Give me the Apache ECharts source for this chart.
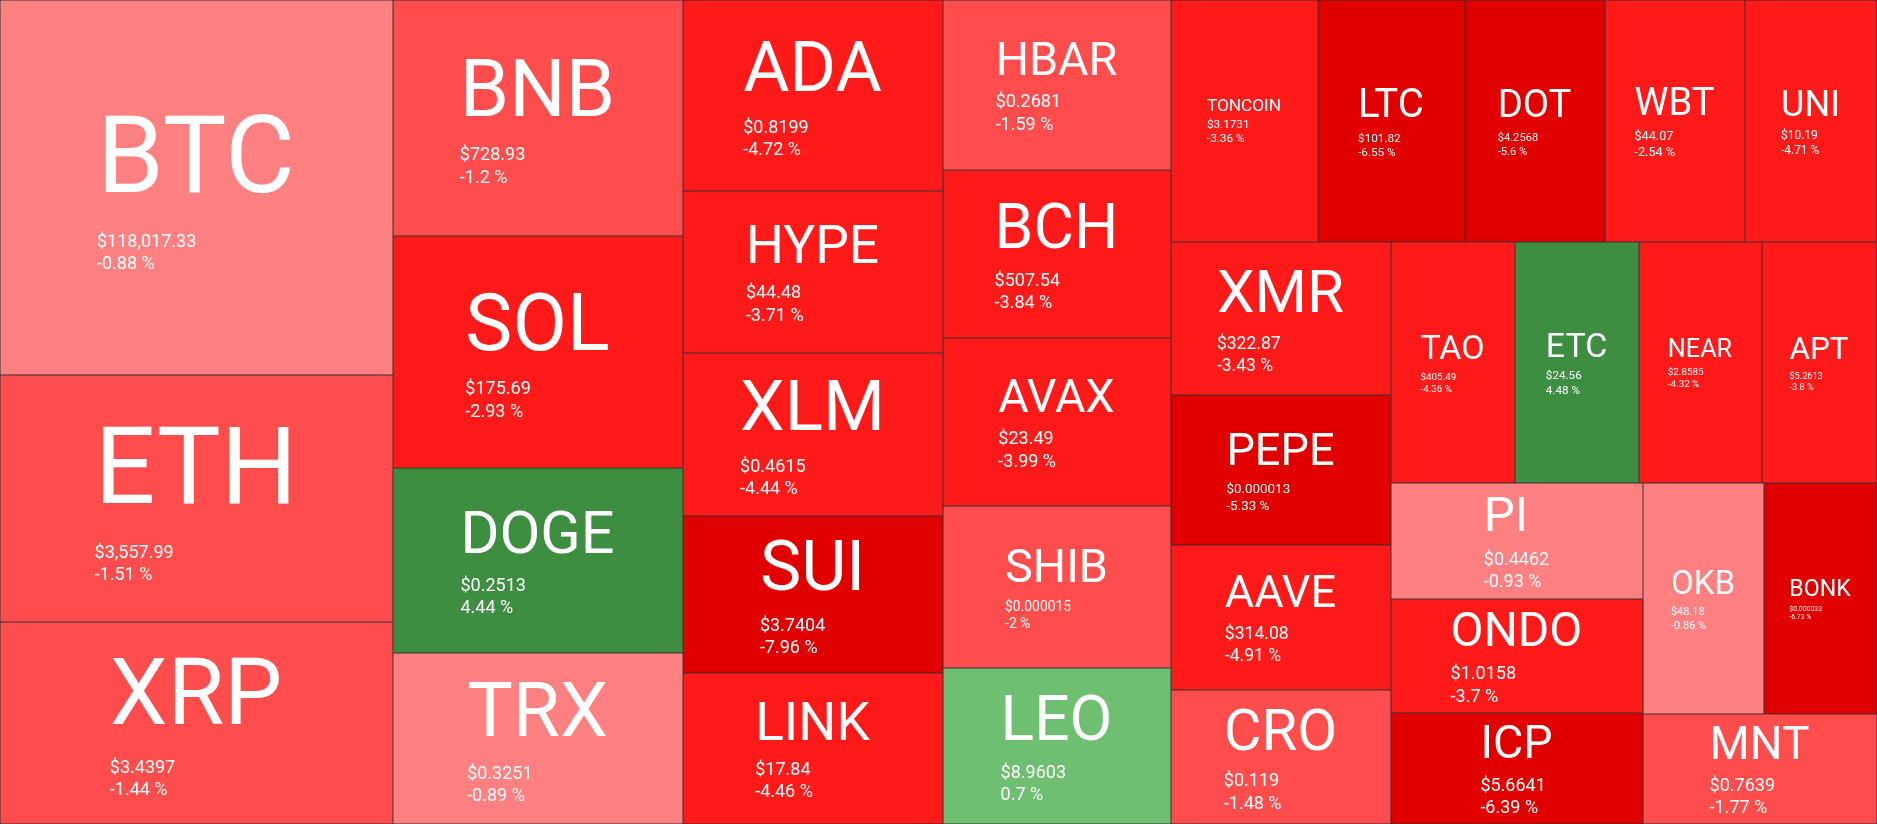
<!DOCTYPE html>
<html>
<head>
<meta charset="utf-8">
<script src="https://cdn.jsdelivr.net/npm/echarts@6/dist/echarts.min.js"></script>
<style>
html,body{margin:0;padding:0;background:#ffffff;}
#c{width:1877px;height:824px;}
</style>
</head>
<body>
<div id="c"></div>
<script>
// ---- data ----
const names = ['BTC','ETH','XRP','BNB','SOL','DOGE','TRX','ADA','HYPE','XLM','SUI','LINK',
  'HBAR','BCH','AVAX','SHIB','LEO','TONCOIN','LTC','DOT','WBT','UNI','XMR','PEPE','AAVE','CRO',
  'TAO','ETC','NEAR','APT','PI','ONDO','ICP','OKB','BONK','MNT'];
const prices = [118017.33, 3557.99, 3.4397, 728.93, 175.69, 0.2513, 0.3251, 0.8199, 44.48, 0.4615, 3.7404, 17.84,
  0.2681, 507.54, 23.49, 0.000015, 8.9603, 3.1731, 101.82, 4.2568, 44.07, 10.19, 322.87, 0.000013, 314.08, 0.119,
  405.49, 24.56, 2.8585, 5.2613, 0.4462, 1.0158, 5.6641, 48.18, 0.000033, 0.7639];
const changes = [-0.88, -1.51, -1.44, -1.2, -2.93, 4.44, -0.89, -4.72, -3.71, -4.44, -7.96, -4.46,
  -1.59, -3.84, -3.99, -2, 0.7, -3.36, -6.55, -5.6, -2.54, -4.71, -3.43, -5.33, -4.91, -1.48,
  -4.36, 4.48, -4.32, -3.8, -0.93, -3.7, -6.39, -0.86, -6.73, -1.77];
// tile sizes (relative areas)
const sizes = [147375, 97071, 79386, 68440, 67280, 53650, 49590, 49660, 42120, 42380, 40820, 39260,
  38760, 38304, 38304, 36936, 35568, 35574, 35574, 33880, 33880, 31944, 33660, 33000, 31900, 29480,
  29884, 29884, 29643, 27715, 29232, 28728, 27972, 27951, 26103, 25740];

// ---- helpers ----
const FONT = 'Roboto';
function fmtPrice(p) {
  const s = String(p);
  const parts = s.split('.');
  const ii = parts[0].replace(/\B(?=(\d{3})+(?!\d))/g, ',');
  return '$' + ii + (parts.length > 1 ? '.' + parts[1] : '');
}
function fmtPct(c) { return String(c) + ' %'; }
function colorFor(c) {
  if (c >= 2) return '#3E8E41';
  if (c > 0) return '#6FBF73';
  if (c > -1) return '#FF8080';
  if (c >= -2) return '#FF4D4D';
  if (c >= -5) return '#FF1A1A';
  return '#E00000';
}
const mctx = document.createElement('canvas').getContext('2d');
function tw(text, fs) { mctx.font = fs + 'px ' + FONT; return mctx.measureText(text).width; }

const chart = echarts.init(document.getElementById('c'), null, {renderer: 'canvas'});

function buildData(labelFor) {
  return names.map((n, i) => {
    const item = { name: n, value: sizes[i], itemStyle: { color: colorFor(changes[i]) } };
    if (labelFor) item.label = labelFor(i);
    return item;
  });
}
function makeOption(data) {
  return {
    animation: false,
    series: [{
      type: 'treemap',
      left: 0, top: 0, width: '100%', height: '100%',
      sort: false,
      squareRatio: 0.5 * (1 + Math.sqrt(5)),
      roam: false,
      nodeClick: false,
      silent: true,
      breadcrumb: { show: false },
      levels: [
        { itemStyle: { borderWidth: 0, gapWidth: 0 } },
        { itemStyle: { borderWidth: 0.5, borderColor: '#333333', gapWidth: 0 } }
      ],
      label: {
        show: true,
        position: 'inside',
        color: '#ffffff',
        fontFamily: FONT,
        overflow: 'none',
        formatter: function (p) {
          const i = names.indexOf(p.name);
          return '{n|' + p.name + '}\n{s|' + fmtPrice(prices[i]) + '}\n{s|' + fmtPct(changes[i]) + '}';
        },
        rich: {
          n: { fontSize: 30, color: '#fff', fontFamily: FONT, align: 'left' },
          s: { fontSize: 14, color: '#fff', fontFamily: FONT, align: 'left' }
        }
      },
      data: data
    }]
  };
}

// first pass: let the library lay out the tiles
chart.setOption(makeOption(buildData(null)));

const layouts = {};
try {
  const sd = chart.getModel().getSeriesByIndex(0).getData();
  sd.tree.root.children.forEach(function (nd) {
    const l = nd.getLayout();
    layouts[nd.name] = { w: l.width, h: l.height };
  });
} catch (e) {}

function labelFor(i) {
  const name = names[i];
  let L = layouts[name];
  if (!L) { const s = Math.sqrt(sizes[i]); L = { w: s, h: s }; }
  const w = L.w, h = L.h;
  const price = fmtPrice(prices[i]);
  const pct = fmtPct(changes[i]);
  const fsN = Math.max(8, Math.min(0.82 * w / name.length, 0.5 * h - 9));
  const subUnit = Math.max(tw(price, 100), tw(pct, 100)) / 100;
  const fsS = Math.min(18, 0.29 * w / subUnit);
  const lhN = fsN * 1.22, lhS = fsS * 1.25;
  const blockH = lhN + 2 * lhS;
  const blockW = Math.max(tw(name, fsN), tw(price, fsS), tw(pct, fsS));
  const pl = Math.max(0, (w - blockW) / 2 - 1);
  const pt = Math.max(0, (h - blockH) / 2);
  return {
    padding: [pt, 0, 0, pl],
    rich: {
      n: { fontSize: fsN, lineHeight: lhN, color: '#fff', fontFamily: FONT, align: 'left' },
      s: { fontSize: fsS, lineHeight: lhS, color: '#fff', fontFamily: FONT, align: 'left' }
    }
  };
}

// second pass: size the labels from the tiles
chart.setOption(makeOption(buildData(labelFor)));
</script>
</body>
</html>
